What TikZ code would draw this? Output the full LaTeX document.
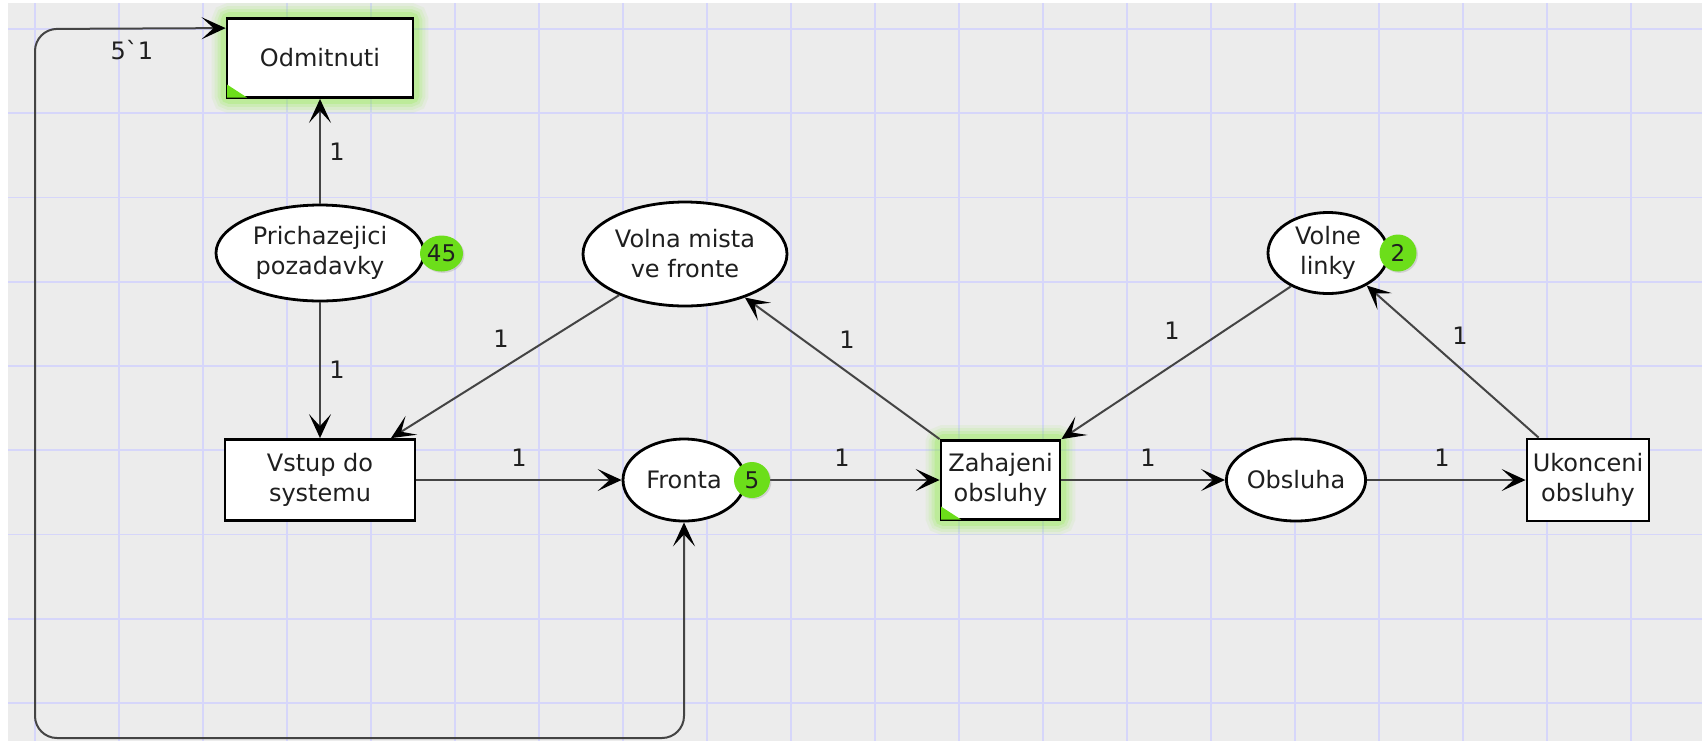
\documentclass[tikz,border=0pt]{standalone}
\usepackage{fontspec}
\setmainfont{DejaVu Sans}
\usetikzlibrary{shapes.geometric,arrows.meta,calc,shadows}
\definecolor{paper}{RGB}{236,236,236}
\definecolor{gridline}{RGB}{214,214,250}
\definecolor{arcgray}{RGB}{68,68,68}
\definecolor{token}{RGB}{108,222,26}
\definecolor{glowgreen}{RGB}{130,235,50}
\pgfdeclarelayer{grid}
\pgfdeclarelayer{glow}
\pgfsetlayers{grid,glow,main}
\begin{document}
\begin{tikzpicture}[x=0.5pt,y=-0.5pt,
  every node/.style={font=\fontsize{12}{15}\selectfont, text=black!88},
  trans/.style={draw=black, line width=1.4pt, fill=white, rectangle, inner sep=0pt, align=center},
  place/.style={draw=black, line width=1.4pt, fill=white, ellipse, inner sep=0pt, align=center},
  tok/.style={fill=token, ellipse, inner sep=0pt, font=\fontsize{11.5}{13}\selectfont,
    drop shadow={opacity=0.25, shadow xshift=0.7pt, shadow yshift=-0.7pt}},
  tip/.tip={Stealth[length=12pt,width=11pt,inset=6pt,color=black]},
  arc/.style={draw=arcgray, line width=1pt, -tip},
  bothends/.style={tip-tip},
  lbl/.style={inner sep=0pt},
]
\useasboundingbox (0,0) rectangle (1702,741);

% paper and grid
\begin{pgfonlayer}{grid}
  \fill[white] (0,0) rectangle (1702,741);
  \fill[paper] (8,3) rectangle (1702,741);
  \foreach \i in {0,...,19}
    \draw[gridline, line width=0.8pt] ({35+84*\i},3) -- ({35+84*\i},741);
  \foreach \j in {0,...,8}
    \draw[gridline, line width=0.8pt] (8,{29+84.25*\j}) -- (1702,{29+84.25*\j});
\end{pgfonlayer}

% places and transitions
\node[trans, minimum width=93pt, minimum height=39.5pt] (odm) at (320,58) {Odmitnuti};
\node[place, minimum width=104pt, minimum height=48pt] (pri) at (320,253) {Prichazejici\\pozadavky};
\node[trans, minimum width=95pt, minimum height=40.5pt] (vst) at (320,480) {Vstup do\\systemu};
\node[place, minimum width=61pt, minimum height=41pt] (fro) at (684,480) {Fronta};
\node[place, minimum width=102pt, minimum height=52pt] (vmf) at (685,254) {Volna mista\\ve fronte};
\node[trans, minimum width=59.5pt, minimum height=39.5pt] (zah) at (1000.5,480) {Zahajeni\\obsluhy};
\node[place, minimum width=60pt, minimum height=40.5pt] (vl) at (1328,253) {Volne\\linky};
\node[place, minimum width=61pt, minimum height=41pt] (obs) at (1296,480) {Obsluha};
\node[trans, minimum width=61pt, minimum height=41pt] (uko) at (1588,480) {Ukonceni\\obsluhy};

% enabled-transition highlight: soft green halo
\begin{pgfonlayer}{glow}
  \foreach \n in {odm,zah}{
    \foreach \w/\o in {14/0.08,11/0.1,8/0.14,5/0.2}
      \draw[glowgreen, line width=\w pt, opacity=\o, rounded corners=2pt]
        (\n.south west) rectangle (\n.north east);
  }
\end{pgfonlayer}
\foreach \n in {odm,zah}
  \fill[token] ($(\n.south west)+(1.4,-1.4)$) -- ++(20,0) -- ++(-20,-13) -- cycle;

% arcs
\draw[arc] (pri.north) -- (odm.south);
\draw[arc] (pri.south) -- (vst.north);
\draw[arc] (vmf.212) -- ($(vst.north)+(71,0)$);
\draw[arc] (vst.east) -- (fro.west);
\draw[arc] (fro.east) -- (zah.west);
\draw[arc] (zah.north west) -- (vmf.-36);
\draw[arc] (vl.222) -- (zah.north east);
\draw[arc] (zah.east) -- (obs.west);
\draw[arc] (obs.east) -- (uko.west);
\draw[arc] ($(uko.north west)+(13,0)$) -- (vl.-40);
\draw[arc, bothends, rounded corners=11pt]
  (fro.south) |- (35,738) -- (35,29) -- ($(odm.north west)+(0,11)$);

% tokens
\node[tok, minimum width=21.5pt, minimum height=18pt] (t45) at (441.5,253.5) {45};
\node[tok, minimum width=18pt, minimum height=18pt] (t5) at (752,480) {5};
\node[tok, minimum width=18.5pt, minimum height=18.5pt] (t2) at (1398,253) {2};

% arc inscriptions
\node[lbl] (lpo) at (337,152) {1};
\node[lbl] (lpv) at (337,370) {1};
\node[lbl] (lvv) at (501,339) {1};
\node[lbl] (lvf) at (519,458) {1};
\node[lbl] (lfz) at (842,458) {1};
\node[lbl] (lzv) at (847,340) {1};
\node[lbl] (llz) at (1172,331) {1};
\node[lbl] (lzo) at (1148,458) {1};
\node[lbl] (lol) at (1442,458) {1};
\node[lbl] (lul) at (1460,336) {1};
\node[lbl] (lloop) at (132,50) {5\textasciigrave 1};
\end{tikzpicture}
\end{document}
